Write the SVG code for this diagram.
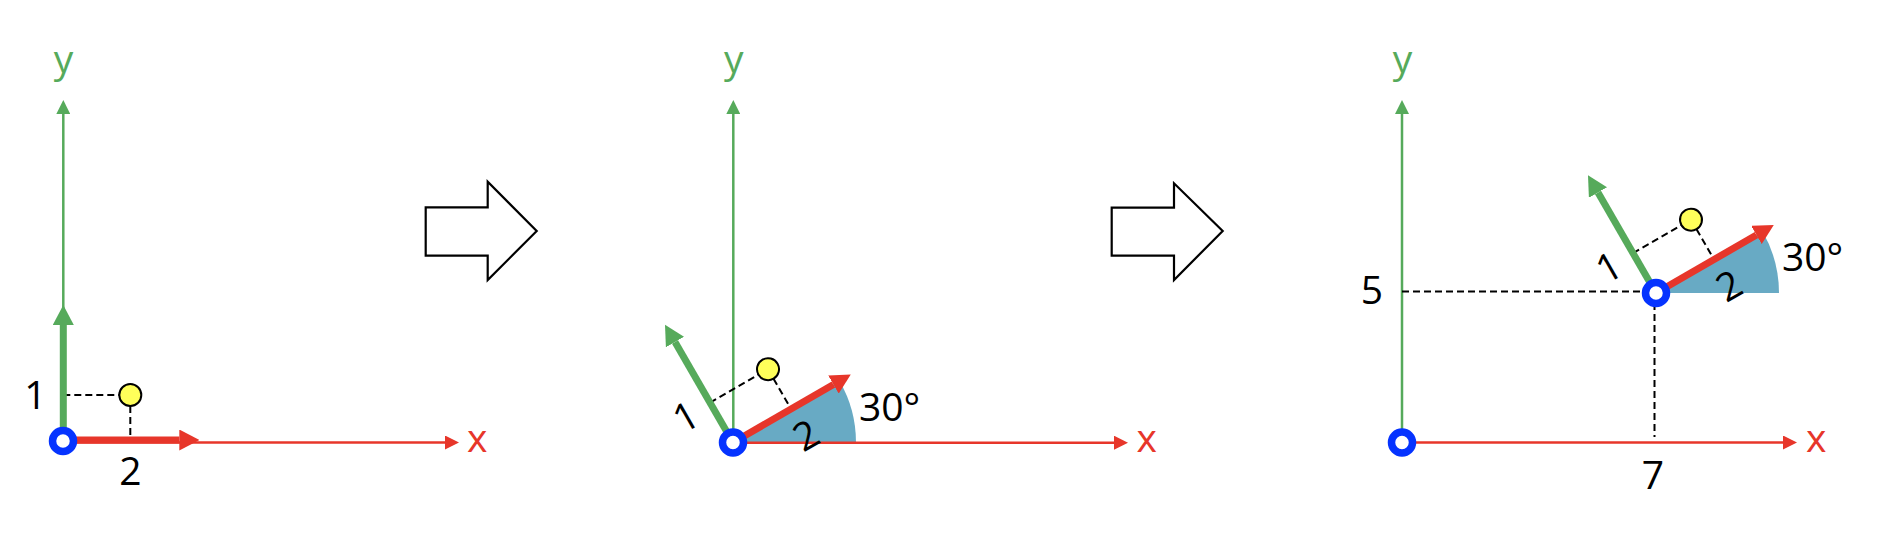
<svg xmlns="http://www.w3.org/2000/svg" width="1882" height="538" viewBox="0 0 1882 538">
<style>
.t{font-family:"Open Sans","Liberation Sans",sans-serif;font-size:39px;fill:#000}
.tg{fill:#56AA5B}
.tr{fill:#E7362A}
.axg{stroke:#56AA5B;stroke-width:2.5;fill:none}
.axr{stroke:#E7362A;stroke-width:2.5;fill:none}
.thg{stroke:#56AA5B;stroke-width:7;fill:none}
.thr{stroke:#E7362A;stroke-width:7;fill:none}
.dash{stroke:#000;stroke-width:2;stroke-dasharray:7 4;fill:none}
.pt{fill:#FFFF5A;stroke:#000;stroke-width:2}
.org{fill:#fff;stroke:#0533FF;stroke-width:7.5}
.sec{fill:#68AAC4}
.blk{fill:#fff;stroke:#000;stroke-width:2.2;stroke-linejoin:miter}
</style>
<defs>
<marker id="hg" markerUnits="userSpaceOnUse" viewBox="0 0 14 14" refX="0" refY="7" markerWidth="14" markerHeight="14" orient="auto"><path d="M0,0 L14,7 L0,14 Z" fill="#56AA5B"/></marker>
<marker id="hr" markerUnits="userSpaceOnUse" viewBox="0 0 14 14" refX="0" refY="7" markerWidth="14" markerHeight="14" orient="auto"><path d="M0,0 L14,7 L0,14 Z" fill="#E7362A"/></marker>
<marker id="Hg" markerUnits="userSpaceOnUse" viewBox="0 0 20 21" refX="0" refY="10.5" markerWidth="20" markerHeight="21" orient="auto"><path d="M0,0 L20,10.5 L0,21 Z" fill="#56AA5B"/></marker>
<marker id="Hr" markerUnits="userSpaceOnUse" viewBox="0 0 20 21" refX="0" refY="10.5" markerWidth="20" markerHeight="21" orient="auto"><path d="M0,0 L20,10.5 L0,21 Z" fill="#E7362A"/></marker>
</defs>

<!-- Panel 1 -->
<g id="panel1">
  <g id="p1-axes">
    <line class="axr" x1="63" y1="442.5" x2="445" y2="442.5" marker-end="url(#hr)"/>
    <line class="axg" x1="63.3" y1="441" x2="63.3" y2="114" marker-end="url(#hg)"/>
    <text class="t tr" x="467" y="452">x</text>
    <text class="t tg" x="63.5" y="73" text-anchor="middle">y</text>
  </g>
  <g id="p1-frame" transform="translate(63.3,441)">
    <line class="dash" x1="0" y1="-46" x2="56" y2="-46"/>
    <line class="dash" x1="67" y1="-35" x2="67" y2="-4"/>
    <circle id="p1-point" class="pt" cx="67" cy="-46" r="11"/>
    <line class="thg" x1="0" y1="0" x2="0" y2="-116" marker-end="url(#Hg)"/>
    <line class="thr" x1="0" y1="-1" x2="116" y2="-1" marker-end="url(#Hr)"/>
    <text class="t" x="-28" y="-32" text-anchor="middle">1</text>
    <text class="t" x="67" y="44" text-anchor="middle">2</text>
  </g>
  <circle id="p1-origin" class="org" cx="63" cy="441" r="10.5"/>
</g>

<!-- Block arrows -->
<g id="arrow1">
  <polygon class="blk" points="425.7,207.3 487.7,207.3 487.7,181.7 536.7,231 487.7,280 487.7,255.7 425.7,255.7"/>
</g>
<g id="arrow2">
  <polygon class="blk" points="1111.7,207.7 1174,207.7 1174,183.3 1222.7,231 1174,280 1174,255.7 1111.7,255.7"/>
</g>

<!-- Panel 2 -->
<g id="panel2">
  <path id="p2-angle" class="sec" d="M733,442.5 L856,442.5 A123,123 0 0 0 839.5,381 Z"/>
  <g id="p2-axes">
    <line class="axr" x1="733" y1="442.7" x2="1114" y2="442.7" marker-end="url(#hr)"/>
    <line class="axg" x1="733.3" y1="442" x2="733.3" y2="114" marker-end="url(#hg)"/>
    <text class="t tr" x="1136.5" y="451.7">x</text>
    <text class="t tg" x="733.8" y="73" text-anchor="middle">y</text>
  </g>
  <g id="p2-frame" transform="translate(733,442.5) rotate(-30)">
    <line class="dash" x1="0" y1="-46" x2="56" y2="-46"/>
    <line class="dash" x1="67" y1="-35" x2="67" y2="-4"/>
    <circle id="p2-point" class="pt" cx="67" cy="-46" r="11"/>
    <line class="thg" x1="0" y1="0" x2="0" y2="-116" marker-end="url(#Hg)"/>
    <line class="thr" x1="0" y1="0" x2="116" y2="0" marker-end="url(#Hr)"/>
    <text class="t" x="-28" y="-32" text-anchor="middle">1</text>
    <text class="t" x="67" y="44" text-anchor="middle">2</text>
  </g>
  <text class="t" x="859" y="420.5">30°</text>
  <circle id="p2-origin" class="org" cx="733" cy="442.5" r="10.5"/>
</g>

<!-- Panel 3 -->
<g id="panel3">
  <path id="p3-angle" class="sec" d="M1656,293 L1779,293 A123,123 0 0 0 1762.5,231.5 Z"/>
  <g id="p3-axes">
    <line class="axr" x1="1402" y1="442.5" x2="1783" y2="442.5" marker-end="url(#hr)"/>
    <line class="axg" x1="1402" y1="442" x2="1402" y2="114" marker-end="url(#hg)"/>
    <text class="t tr" x="1806" y="451.7">x</text>
    <text class="t tg" x="1402.5" y="73" text-anchor="middle">y</text>
  </g>
  <g id="p3-guides">
    <line class="dash" x1="1402" y1="291.5" x2="1646" y2="291.5"/>
    <line class="dash" x1="1654.5" y1="303" x2="1654.5" y2="437"/>
    <text class="t" x="1372" y="304" text-anchor="middle">5</text>
    <text class="t" x="1653" y="489" text-anchor="middle">7</text>
  </g>
  <g id="p3-frame" transform="translate(1656,293) rotate(-30)">
    <line class="dash" x1="0" y1="-46" x2="56" y2="-46"/>
    <line class="dash" x1="67" y1="-35" x2="67" y2="-4"/>
    <circle id="p3-point" class="pt" cx="67" cy="-46" r="11"/>
    <line class="thg" x1="0" y1="0" x2="0" y2="-116" marker-end="url(#Hg)"/>
    <line class="thr" x1="0" y1="0" x2="116" y2="0" marker-end="url(#Hr)"/>
    <text class="t" x="-28" y="-32" text-anchor="middle">1</text>
    <text class="t" x="67" y="44" text-anchor="middle">2</text>
  </g>
  <text class="t" x="1782" y="270.5">30°</text>
  <circle id="p3-origin" class="org" cx="1656" cy="293" r="10.5"/>
  <circle id="p3-world-origin" class="org" cx="1402" cy="442.5" r="10.5"/>
</g>
</svg>
